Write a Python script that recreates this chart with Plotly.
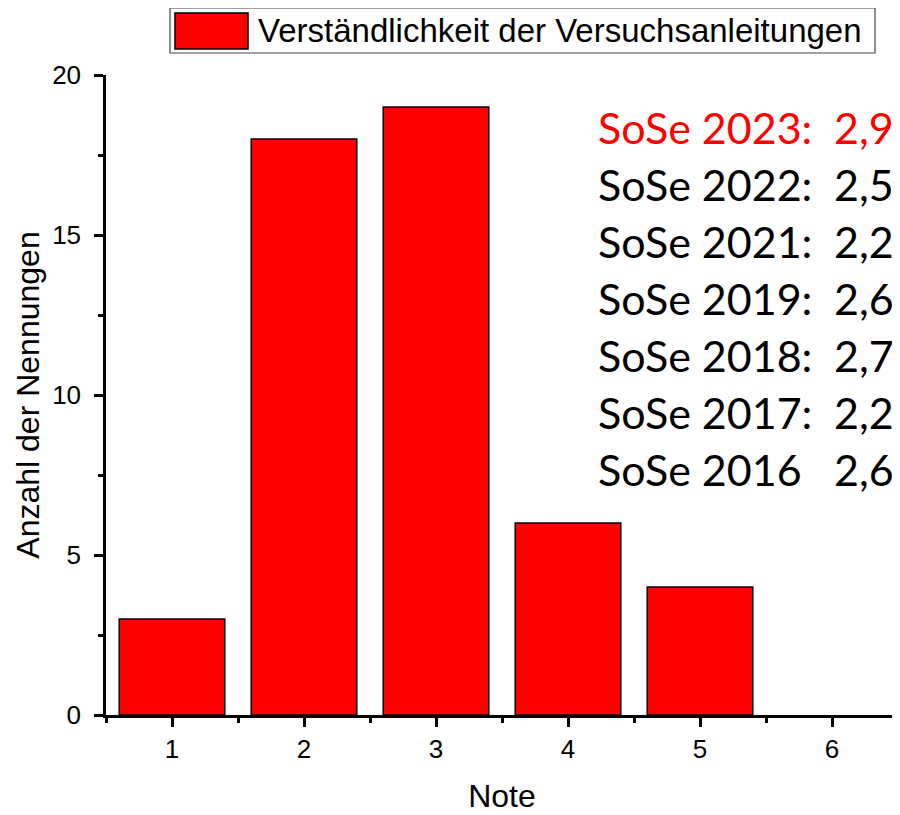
import plotly.graph_objects as go

notes = [1, 2, 3, 4, 5, 6]
counts = [3, 18, 19, 6, 4, 0]
series_name = "Verständlichkeit der Versuchsanleitungen"
semesters = ["SoSe 2023:", "SoSe 2022:", "SoSe 2021:", "SoSe 2019:", "SoSe 2018:", "SoSe 2017:", "SoSe 2016"]
averages = ["2,9", "2,5", "2,2", "2,6", "2,7", "2,2", "2,6"]
sem_colors = ["#FF0000", "black", "black", "black", "black", "black", "black"]

fig = go.Figure()
fig.add_trace(go.Bar(
    x=notes, y=counts, name=series_name, width=0.8,
    marker=dict(color="#FF0000",
                line=dict(color="black", width=[1.5 if c > 0 else 0 for c in counts])),
    showlegend=False,
))

# page has an 8px body margin; work in window pixels and compensate
OFF = 8
W, H = 900 - OFF, 815 - OFF
# plot area in window pixels: x 106..898, y 75..715
L, R, T, B = 106 - OFF, 900 - 898, 75 - OFF, 815 - 715
pw, ph = W - L - R, H - T - B

def px(x):
    return (x - OFF - L) / pw

def py(y):
    return (H - B - (y - OFF)) / ph

# manual legend
fig.add_shape(type="rect", xref="paper", yref="paper",
              x0=px(170), x1=px(875), y0=py(53), y1=py(8),
              line=dict(color="#444", width=1.2), fillcolor="white")
fig.add_shape(type="rect", xref="paper", yref="paper",
              x0=px(175), x1=px(248), y0=py(49), y1=py(13),
              line=dict(color="black", width=1.5), fillcolor="#FF0000")
fig.add_annotation(xref="paper", yref="paper", x=px(256), y=py(31),
                   xanchor="left", yanchor="middle", showarrow=False,
                   text=series_name,
                   font=dict(family="Liberation Sans, Arial", size=33, color="black"))

# semester annotations
y0 = 127
step = 57
for i, (s, a, c) in enumerate(zip(semesters, averages, sem_colors)):
    yc = y0 + i * step
    fig.add_annotation(xref="paper", yref="paper", x=px(596), y=py(yc),
                       xanchor="left", yanchor="middle", showarrow=False, text=s,
                       font=dict(family="Lato", size=43, color=c))
    fig.add_annotation(xref="paper", yref="paper", x=px(896), y=py(yc),
                       xanchor="right", yanchor="middle", showarrow=False, text=a,
                       font=dict(family="Lato", size=43, color=c))

axis_font = dict(family="Liberation Sans, Arial", size=26, color="black")
fig.update_layout(
    width=W, height=H,
    margin=dict(l=L, r=R, t=T, b=B),
    plot_bgcolor="white", paper_bgcolor="white",
    xaxis=dict(range=[0.5, 6.5], tickmode="linear", tick0=1, dtick=1, automargin=False,
               showgrid=False, zeroline=False, showline=True, linecolor="black", linewidth=2.5,
               ticks="outside", ticklen=9, tickwidth=2.5, tickcolor="black",
               minor=dict(ticks="outside", ticklen=5, tickwidth=2.5, tickcolor="black", dtick=0.5, tick0=0.5),
               tickfont=axis_font,
               title=dict(text="Note", font=dict(family="Liberation Sans, Arial", size=32, color="black"), standoff=22)),
    yaxis=dict(range=[0, 20], tickmode="linear", tick0=0, dtick=5, automargin=False,
               showgrid=False, zeroline=False, showline=True, linecolor="black", linewidth=2.5,
               ticks="outside", ticklen=9, tickwidth=2.5, tickcolor="black", ticklabelstandoff=8,
               minor=dict(ticks="outside", ticklen=5, tickwidth=2.5, tickcolor="black", dtick=2.5, tick0=0),
               tickfont=axis_font,
               title=dict(text="Anzahl der Nennungen", font=dict(family="Liberation Sans, Arial", size=32, color="black"), standoff=3)),
)

fig.write_html("out.html")
